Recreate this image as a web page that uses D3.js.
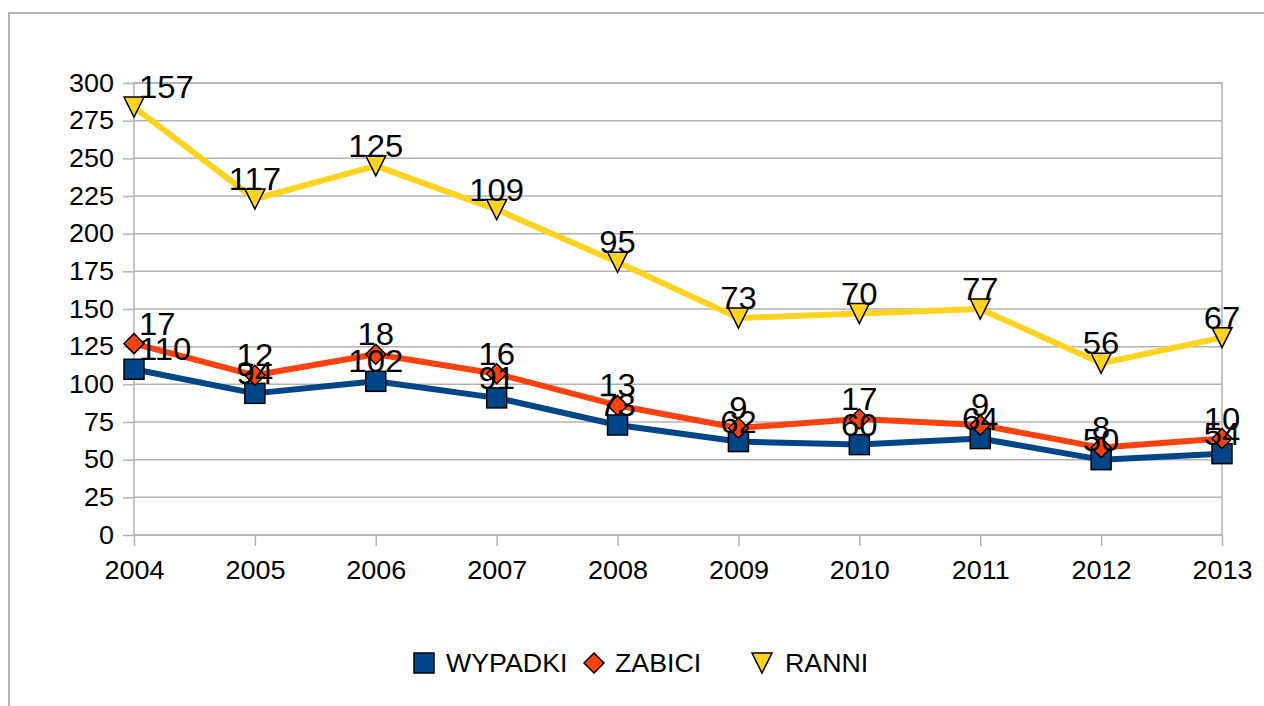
<!DOCTYPE html>
<html>
<head>
<meta charset="utf-8">
<script src="https://cdn.jsdelivr.net/npm/d3@7"></script>
<style>
  html, body { margin: 0; padding: 0; background: #ffffff; }
  svg { display: block; }
  text { font-family: "Liberation Sans", Arial, sans-serif; fill: #000; }
</style>
</head>
<body>
<svg id="chart" width="1264" height="706"></svg>
<script>
const years = ["2004","2005","2006","2007","2008","2009","2010","2011","2012","2013"];
const wypadki = [110, 94, 102, 91, 73, 62, 60, 64, 50, 54];
const zabici  = [17, 12, 18, 16, 13, 9, 17, 9, 8, 10];
const ranni   = [157, 117, 125, 109, 95, 73, 70, 77, 56, 67];
const seriesNames = ["WYPADKI", "ZABICI", "RANNI"];
const yTicks = [0, 25, 50, 75, 100, 125, 150, 175, 200, 225, 250, 275, 300];

(function () {
const colors = ["#004586", "#ff420e", "#ffd320"];
const grid = "#b3b3b3";

// horizontal stretch of text about its anchor point
function stretch(sel, k) {
  sel.each(function () {
    const t = d3.select(this);
    const tx = +(t.attr("x") || 0);
    t.attr("transform", `translate(${tx},0) scale(${k},1) translate(${-tx},0)`);
  });
}

const svg = d3.select("#chart");
svg.append("rect").attr("width", 1264).attr("height", 706).attr("fill", "#fff");
// outer frame
svg.append("rect").attr("x", 9).attr("y", 13).attr("width", 1275).attr("height", 720)
  .attr("fill", "none").attr("stroke", grid).attr("stroke-width", 2);

const pL = 134, pR = 1222, pT = 83, pB = 535;
const x = d3.scalePoint().domain(years).range([pL, pR]);
const y = d3.scaleLinear().domain([0, 300]).range([pB, pT]);

// gridlines
svg.append("g").selectAll("line").data(yTicks).join("line")
  .attr("x1", pL).attr("x2", pR)
  .attr("y1", d => y(d)).attr("y2", d => y(d))
  .attr("stroke", grid).attr("stroke-width", 1.5);
// wall border
svg.append("rect").attr("x", pL).attr("y", pT).attr("width", pR - pL).attr("height", pB - pT)
  .attr("fill", "none").attr("stroke", grid).attr("stroke-width", 1.5);

// y axis
const gy = svg.append("g").attr("transform", `translate(${pL},0)`)
  .call(d3.axisLeft(y).tickValues(yTicks).tickSize(11).tickPadding(9));
gy.select(".domain").remove();
gy.selectAll(".tick line").attr("stroke", grid).attr("stroke-width", 1.5);
gy.selectAll(".tick text").attr("font-size", 25).attr("font-family", "Liberation Sans, Arial, sans-serif").attr("fill", "#000");
stretch(gy.selectAll(".tick text"), 1.08);

// x axis
const gx = svg.append("g").attr("transform", `translate(0,${pB})`)
  .call(d3.axisBottom(x).tickSize(11).tickPadding(15));
gx.select(".domain").remove();
gx.selectAll(".tick line").attr("stroke", grid).attr("stroke-width", 1.5);
gx.selectAll(".tick text").attr("font-size", 25).attr("font-family", "Liberation Sans, Arial, sans-serif").attr("fill", "#000");
stretch(gx.selectAll(".tick text"), 1.08);

// stacked series
const raw = [wypadki, zabici, ranni];
const stacked = [];
raw.forEach((arr, s) => {
  stacked.push(arr.map((v, i) => (s === 0 ? 0 : stacked[s - 1][i]) + v));
});

const line = d3.line().x((d, i) => x(years[i])).y(d => y(d));
const gLines = svg.append("g");
const gMarks = svg.append("g");
const gLabels = svg.append("g");

function marker(sel, s) {
  if (s === 0) {
    sel.append("rect").attr("x", -10).attr("y", -10).attr("width", 20).attr("height", 20)
      .attr("fill", colors[0]).attr("stroke", "#000").attr("stroke-width", 1.5);
  } else if (s === 1) {
    sel.append("path").attr("d", "M0,-10L10,0L0,10L-10,0Z")
      .attr("fill", colors[1]).attr("stroke", "#000").attr("stroke-width", 1.5);
  } else {
    sel.append("path").attr("d", "M-10,-10L10,-10L0,10Z")
      .attr("fill", colors[2]).attr("stroke", "#000").attr("stroke-width", 1.5);
  }
}

stacked.forEach((vals, s) => {
  gLines.append("path").datum(vals).attr("d", line)
    .attr("fill", "none").attr("stroke", colors[s]).attr("stroke-width", 6)
    .attr("stroke-linejoin", "round");
  vals.forEach((v, i) => {
    const g = gMarks.append("g").attr("transform", `translate(${x(years[i])},${y(v)})`);
    marker(g, s);
    gLabels.append("text")
      .attr("x", i === 0 ? x(years[i]) + 5 : x(years[i]))
      .attr("y", y(v) - 9)
      .attr("text-anchor", i === 0 ? "start" : "middle")
      .attr("font-size", 31)
      .text(raw[s][i]);
  });
});
stretch(gLabels.selectAll("text"), 1.06);

// legend
const legendPos = [{mx: 424, tx: 446}, {mx: 594, tx: 615}, {mx: 762, tx: 785}];
seriesNames.forEach((name, s) => {
  const g = svg.append("g").attr("transform", `translate(${legendPos[s].mx},663)`);
  marker(g, s);
  const t = svg.append("text").attr("x", legendPos[s].tx).attr("y", 672)
    .attr("font-size", 26).text(name);
  stretch(t, 1.03);
});
})();
</script>
</body>
</html>
